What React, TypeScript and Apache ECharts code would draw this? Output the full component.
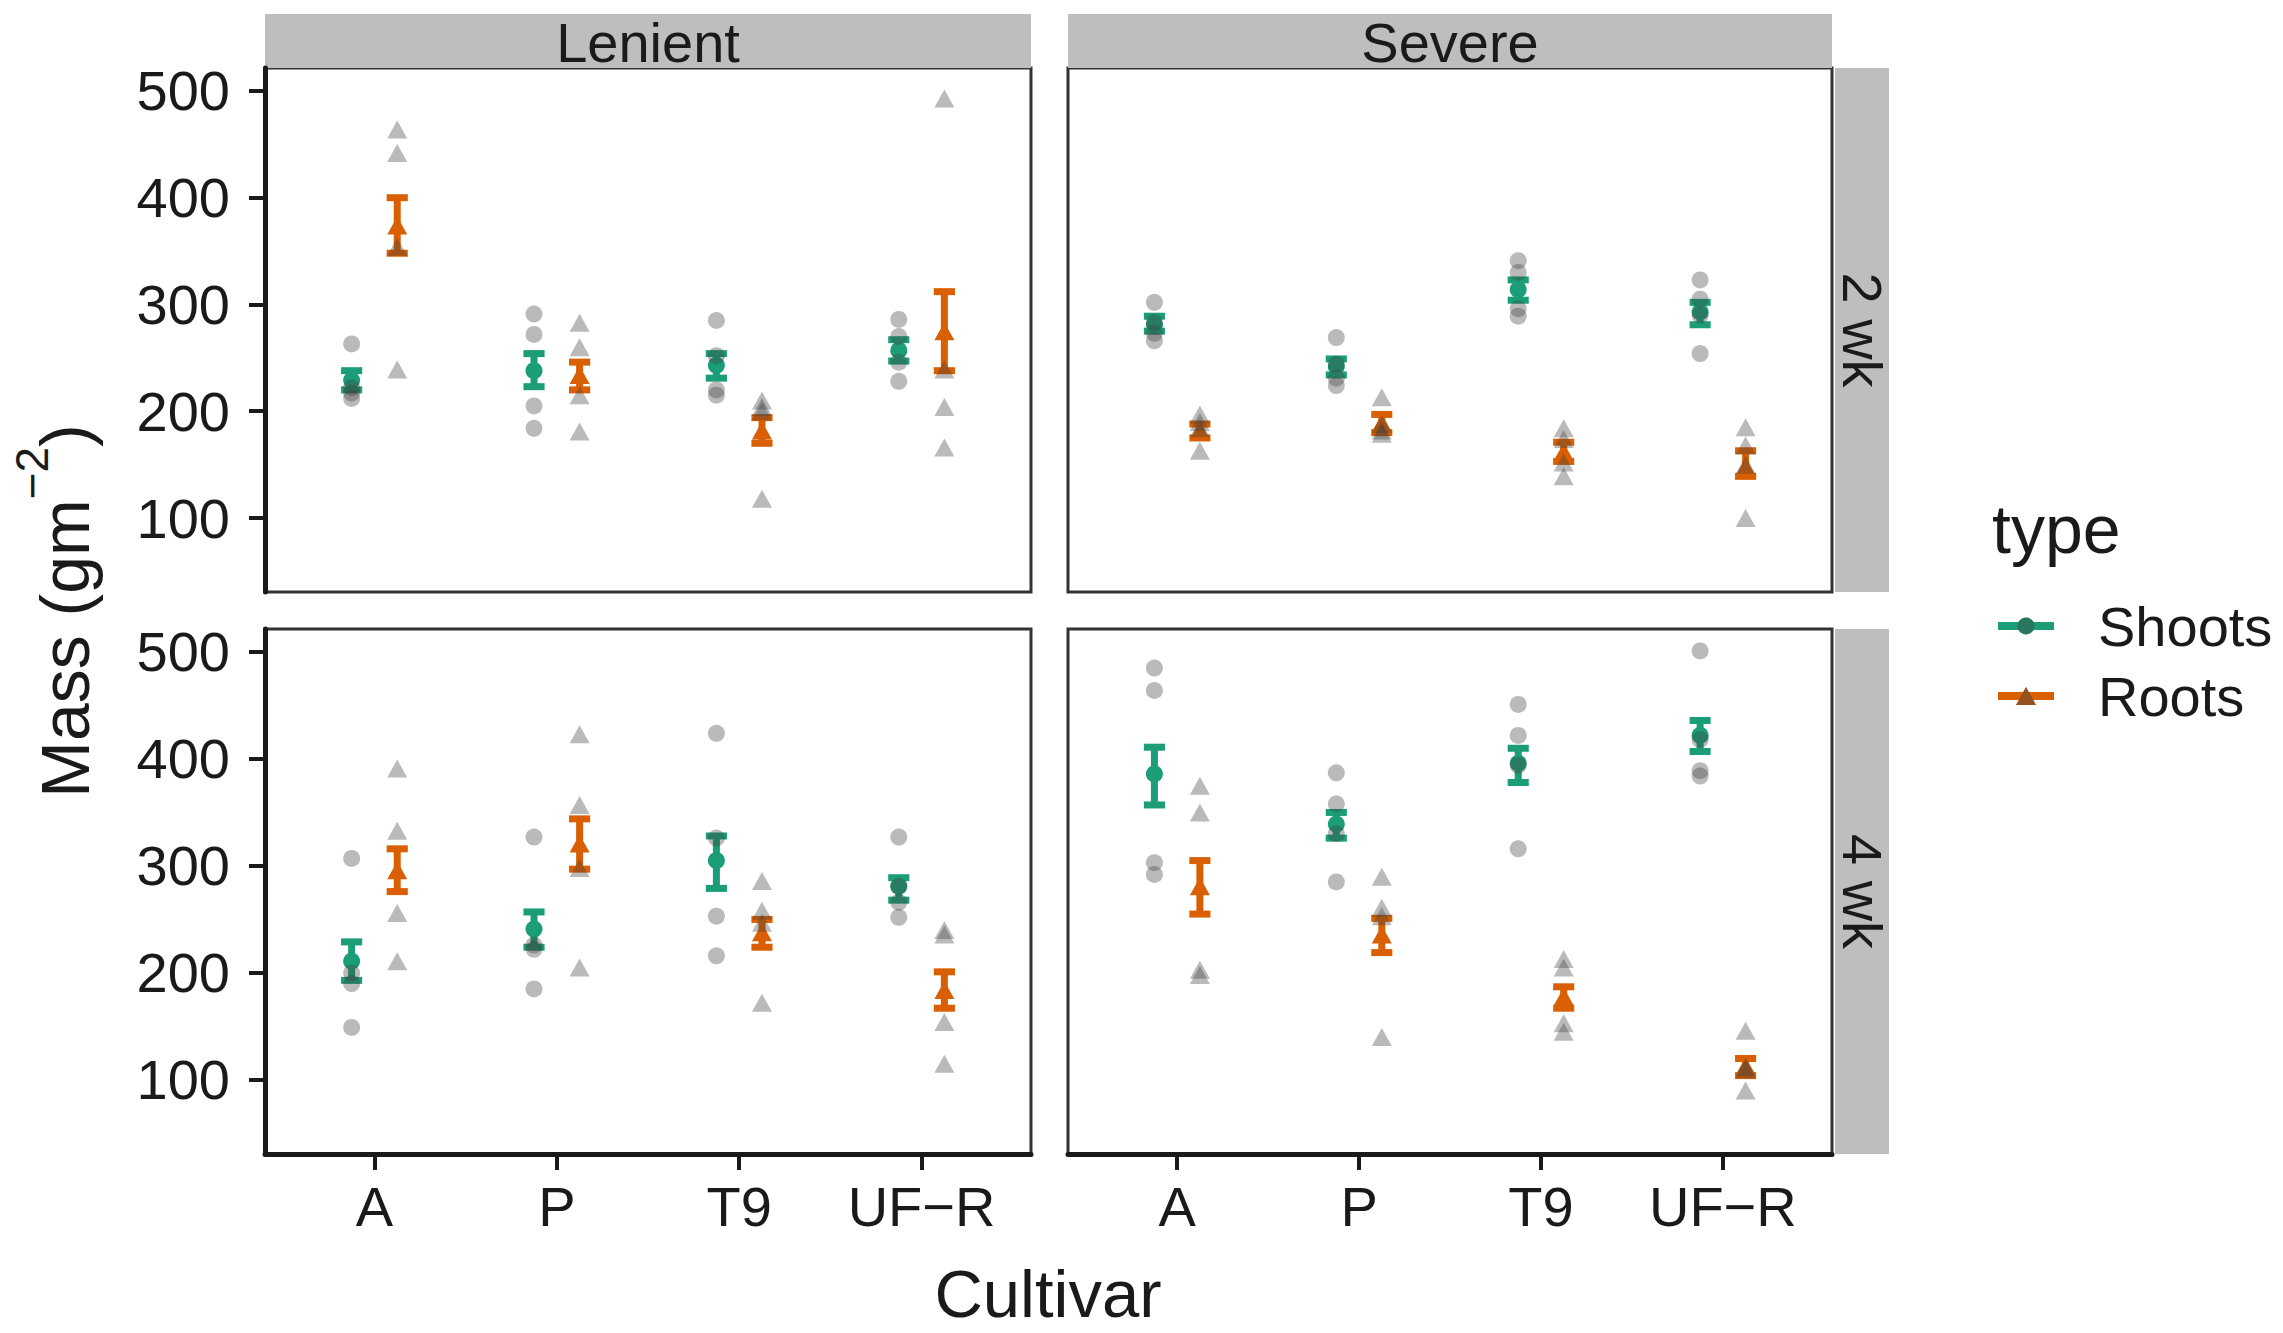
import React, { useEffect, useRef } from 'react';
import * as echarts from 'echarts';

// ---------- data ----------
const cultivars = ['A', 'P', 'T9', 'UF−R'];
const treatments = ['Lenient', 'Severe'];
const times = ['2 wk', '4 wk'];
const typeNames = ['Shoots', 'Roots'];
const yTicks = [100, 200, 300, 400, 500];
const xTicks = [1, 2, 3, 4];

// Lenient, 2 wk
const len2ShootPts = [[263, 222, 217, 212], [291, 272, 205, 184], [285, 252, 220, 215], [286, 270, 246, 228]];
const len2ShootMean = [229, 238, 243, 257];
const len2ShootLow = [220, 223, 231, 247];
const len2ShootHigh = [238, 254, 254, 267];
const len2RootPts = [[464, 442, 354, 239], [283, 260, 215, 181], [210, 204, 200, 118], [493, 239, 204, 166]];
const len2RootMean = [374, 234, 182, 275];
const len2RootLow = [348, 220, 170, 238];
const len2RootHigh = [400, 246, 194, 312];

// Severe, 2 wk
const sev2ShootPts = [[302, 283, 273, 266], [269, 244, 231, 224], [341, 330, 296, 289], [323, 305, 290, 254]];
const sev2ShootMean = [281, 242, 314, 293];
const sev2ShootLow = [275, 234, 304, 281];
const sev2ShootHigh = [289, 249, 323, 302];
const sev2RootPts = [[197, 190, 184, 163], [213, 188, 182, 179], [184, 174, 152, 139], [185, 168, 150, 100]];
const sev2RootMean = [182, 189, 162, 148];
const sev2RootLow = [175, 180, 153, 139];
const sev2RootHigh = [188, 197, 171, 163];

// Lenient, 4 wk
const len4ShootPts = [[307, 200, 190, 149], [327, 226, 222, 185], [424, 326, 253, 216], [327, 281, 266, 252]];
const len4ShootMean = [211, 241, 305, 281];
const len4ShootLow = [193, 224, 279, 268];
const len4ShootHigh = [229, 257, 328, 289];
const len4RootPts = [[391, 333, 256, 211], [423, 357, 298, 205], [286, 258, 247, 172], [240, 236, 154, 115]];
const len4RootMean = [296, 321, 238, 184];
const len4RootLow = [276, 297, 224, 167];
const len4RootHigh = [316, 344, 250, 201];

// Severe, 4 wk
const sev4ShootPts = [[485, 464, 303, 292], [387, 358, 330, 285], [451, 422, 394, 316], [501, 418, 389, 384]];
const sev4ShootMean = [386, 339, 396, 422];
const sev4ShootLow = [357, 326, 378, 407];
const sev4ShootHigh = [411, 350, 410, 436];
const sev4RootPts = [[375, 350, 203, 198], [290, 261, 253, 140], [213, 205, 153, 145], [146, 112, 110, 90]];
const sev4RootMean = [281, 236, 178, 113];
const sev4RootLow = [255, 219, 167, 104];
const sev4RootHigh = [305, 251, 187, 120];

// ---------- style / layout ----------
const FONT = '"Liberation Sans", Arial, Helvetica, sans-serif';
const TEXT = '#1a1a1a';
const GREEN = '#1B9E77';
const ORANGE = '#D95F02';
const GREY_PT = 'rgba(64,64,64,0.45)';
const STRIP = '#BEBEBE';
const yMin = 30.7;
const yMax = 521.5;
const xMin = 0.4;
const xMax = 4.6;
const dodge = 0.125;
const capHalf = 0.058;

const gridLeft = [265, 1068];
const gridWidth = [766, 764];
const gridTop = [68, 629];
const gridHeight = [524, 525];

const panels = [
  { row: 0, col: 0, shoot: [len2ShootPts, len2ShootMean, len2ShootLow, len2ShootHigh], root: [len2RootPts, len2RootMean, len2RootLow, len2RootHigh] },
  { row: 0, col: 1, shoot: [sev2ShootPts, sev2ShootMean, sev2ShootLow, sev2ShootHigh], root: [sev2RootPts, sev2RootMean, sev2RootLow, sev2RootHigh] },
  { row: 1, col: 0, shoot: [len4ShootPts, len4ShootMean, len4ShootLow, len4ShootHigh], root: [len4RootPts, len4RootMean, len4RootLow, len4RootHigh] },
  { row: 1, col: 1, shoot: [sev4ShootPts, sev4ShootMean, sev4ShootLow, sev4ShootHigh], root: [sev4RootPts, sev4RootMean, sev4RootLow, sev4RootHigh] },
];

function errRender(color: string) {
  return (params: any, api: any) => {
    const x = api.value(0);
    const lo = api.value(1);
    const hi = api.value(2);
    const a = api.coord([x, lo]);
    const b = api.coord([x, hi]);
    const c1 = api.coord([x - capHalf, hi]);
    const c2 = api.coord([x + capHalf, hi]);
    const style = { stroke: color, lineWidth: 7 };
    return {
      type: 'group',
      children: [
        { type: 'line', shape: { x1: a[0], y1: a[1], x2: b[0], y2: b[1] }, style },
        { type: 'line', shape: { x1: c1[0], y1: b[1], x2: c2[0], y2: b[1] }, style },
        { type: 'line', shape: { x1: c1[0], y1: a[1], x2: c2[0], y2: a[1] }, style },
      ],
    };
  };
}

function buildOption() {
  const grid: any[] = [];
  const xAxis: any[] = [];
  const yAxis: any[] = [];
  const series: any[] = [];

  panels.forEach((p, k) => {
    grid.push({
      left: gridLeft[p.col], top: gridTop[p.row], width: gridWidth[p.col], height: gridHeight[p.row],
      show: true, borderColor: '#333', borderWidth: 3, backgroundColor: '#fff',
      containLabel: false, outerBoundsMode: 'none',
    });
    xAxis.push({
      gridIndex: k, type: 'value', min: xMin, max: xMax, show: p.row === 1,
      axisLine: { show: true, onZero: false, lineStyle: { color: TEXT, width: 5 } },
      axisTick: { show: true, customValues: xTicks, length: 16, lineStyle: { color: TEXT, width: 4 } },
      axisLabel: {
        show: true, customValues: xTicks, margin: 24, fontSize: 56, color: TEXT, fontFamily: FONT,
        formatter: (v: number) => cultivars[Math.round(v) - 1] ?? '',
      },
      splitLine: { show: false },
    });
    yAxis.push({
      gridIndex: k, type: 'value', min: yMin, max: yMax, show: p.col === 0,
      axisLine: { show: true, onZero: false, lineStyle: { color: TEXT, width: 5 } },
      axisTick: { show: true, customValues: yTicks, length: 16, lineStyle: { color: TEXT, width: 4 } },
      axisLabel: {
        show: true, customValues: yTicks, margin: 35, fontSize: 56, color: TEXT, fontFamily: FONT,
        formatter: (v: number) => String(v),
      },
      splitLine: { show: false },
    });

    const groups = [
      { d: p.shoot, off: -dodge, color: GREEN, symbol: 'circle', size: 17 as any },
      { d: p.root, off: dodge, color: ORANGE, symbol: 'triangle', size: [20, 18] as any },
    ];
    groups.forEach((g) => {
      const [, , low, high] = g.d as any;
      series.push({
        type: 'custom', xAxisIndex: k, yAxisIndex: k, silent: true,
        renderItem: errRender(g.color),
        encode: { x: 0, y: [1, 2] },
        data: cultivars.map((_, i) => [i + 1 + g.off, low[i], high[i]]),
      });
    });
    groups.forEach((g) => {
      const [, mean] = g.d as any;
      series.push({
        type: 'scatter', xAxisIndex: k, yAxisIndex: k, silent: true,
        symbol: g.symbol, symbolSize: g.size,
        itemStyle: { color: g.color, opacity: 1 },
        data: cultivars.map((_, i) => [i + 1 + g.off, mean[i]]),
      });
    });
    groups.forEach((g) => {
      const [pts] = g.d as any;
      const data: number[][] = [];
      cultivars.forEach((_, i) => (pts[i] as number[]).forEach((v) => data.push([i + 1 + g.off, v])));
      series.push({
        type: 'scatter', xAxisIndex: k, yAxisIndex: k, silent: true,
        symbol: g.symbol, symbolSize: g.size,
        itemStyle: { color: GREY_PT },
        data,
      });
    });
  });

  const graphic: any[] = [];
  // top strips
  treatments.forEach((t, c) => {
    graphic.push({ type: 'rect', shape: { x: gridLeft[c], y: 14, width: gridWidth[c], height: 54 }, style: { fill: STRIP } });
    graphic.push({
      type: 'text', x: gridLeft[c] + gridWidth[c] / 2, y: 42,
      style: { text: t, fill: TEXT, fontSize: 56, fontFamily: FONT, align: 'center', verticalAlign: 'middle' },
    });
  });
  // right strips
  times.forEach((t, r) => {
    graphic.push({ type: 'rect', shape: { x: 1835, y: gridTop[r], width: 54, height: gridHeight[r] }, style: { fill: STRIP } });
    graphic.push({
      type: 'text', x: 1862, y: gridTop[r] + gridHeight[r] / 2, rotation: -Math.PI / 2,
      style: { text: t, fill: TEXT, fontSize: 56, fontFamily: FONT, align: 'center', verticalAlign: 'middle' },
    });
  });
  // axis titles
  graphic.push({
    type: 'text', x: 1048, y: 1293,
    style: { text: 'Cultivar', fill: TEXT, fontSize: 67, lineHeight: 62, fontFamily: FONT, align: 'center', verticalAlign: 'middle' },
  });
  graphic.push({
    type: 'text', x: 54, y: 611, rotation: Math.PI / 2,
    style: {
      text: '{a|Mass (gm}{b|−2}{a|)}',
      align: 'center', verticalAlign: 'middle',
      rich: {
        a: { fontSize: 68, fontFamily: FONT, fill: TEXT, lineHeight: 90, verticalAlign: 'bottom' },
        b: { fontSize: 46, fontFamily: FONT, fill: TEXT, lineHeight: 46, verticalAlign: 'top' },
      },
    },
  });
  // legend
  graphic.push({
    type: 'text', x: 1992, y: 529,
    style: { text: 'type', fill: TEXT, fontSize: 68, fontFamily: FONT, align: 'left', verticalAlign: 'middle' },
  });
  const legY = [626, 696];
  const legColors = [GREEN, ORANGE];
  typeNames.forEach((n, i) => {
    const y = legY[i];
    const cx = 2026;
    graphic.push({ type: 'line', shape: { x1: 1998, y1: y, x2: 2054, y2: y }, style: { stroke: legColors[i], lineWidth: 8 } });
    if (i === 0) {
      graphic.push({ type: 'circle', shape: { cx, cy: y, r: 8.5 }, style: { fill: legColors[i] } });
      graphic.push({ type: 'circle', shape: { cx, cy: y, r: 8.5 }, style: { fill: GREY_PT } });
    } else {
      const pts = [[cx - 10, y + 9], [cx + 10, y + 9], [cx, y - 9]];
      graphic.push({ type: 'polygon', shape: { points: pts }, style: { fill: legColors[i] } });
      graphic.push({ type: 'polygon', shape: { points: pts }, style: { fill: GREY_PT } });
    }
    graphic.push({
      type: 'text', x: 2098, y,
      style: { text: n, fill: TEXT, fontSize: 56, fontFamily: FONT, align: 'left', verticalAlign: 'middle' },
    });
  });

  return {
    animation: false,
    backgroundColor: '#fff',
    grid, xAxis, yAxis, series, graphic,
  };
}

export default function App() {
  const ref = useRef<HTMLDivElement>(null);
  useEffect(() => {
    const chart = echarts.init(ref.current as HTMLDivElement, null, { renderer: 'svg' });
    chart.setOption(buildOption() as any);
    return () => chart.dispose();
  }, []);
  return (
    <div
      ref={ref}
      style={{ position: 'absolute', left: 0, top: 0, width: 2283, height: 1333, background: '#fff' }}
    />
  );
}
